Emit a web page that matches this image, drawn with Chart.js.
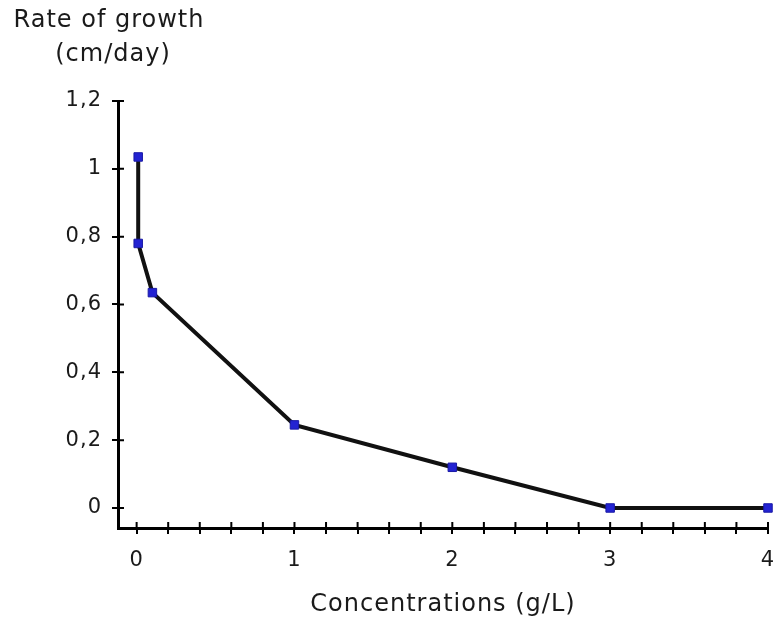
<!DOCTYPE html>
<html>
<head>
<meta charset="utf-8">
<script src="https://cdn.jsdelivr.net/npm/chart.js@4.4.1/dist/chart.umd.min.js"></script>
<style>
  html, body { margin: 0; padding: 0; background: #fff; }
  canvas { display: block; }
</style>
</head>
<body>
<canvas id="chart" width="779" height="623"></canvas>
<script>
// concentration (g/L) and growth rate (cm/day)
const concentrations = [0.01, 0.01, 0.1, 1, 2, 3, 4];
const growthRates = [1.035, 0.78, 0.635, 0.245, 0.12, 0, 0];
const xTickLabels = ['0', '1', '2', '3', '4'];
const yTickLabels = ['0', '0,2', '0,4', '0,6', '0,8', '1', '1,2'];
const yTitleLines = ['Rate of growth', '(cm/day)'];
const xTitle = 'Concentrations (g/L)';
const minorPerUnit = 5; // x axis has a tick every 0.2

const FONT = '"DejaVu Sans", Verdana, sans-serif';
const INK = '#1a1a1a';

const near = (a, b) => Math.abs(a - b) < 1e-6;

// the wide bitmap look of the original text
const spacing = {
    id: 'spacing',
    beforeDraw(chart) { chart.ctx.letterSpacing = '1px'; }
};

// draws the inner half of every tick so they cross the axis line
const crossTicks = {
    id: 'crossTicks',
    afterDraw(chart) {
        const { ctx, chartArea } = chart;
        const x = chart.scales.x, y = chart.scales.y;
        ctx.save();
        ctx.strokeStyle = '#000';
        ctx.lineWidth = 2;
        ctx.beginPath();
        x.ticks.forEach(t => {
            const px = x.getPixelForValue(t.value);
            ctx.moveTo(px, chartArea.bottom);
            ctx.lineTo(px, chartArea.bottom - 6);
        });
        y.ticks.forEach(t => {
            const py = y.getPixelForValue(t.value);
            ctx.moveTo(chartArea.left, py);
            ctx.lineTo(chartArea.left + 6, py);
        });
        ctx.stroke();
        ctx.restore();
    }
};

// y-axis title sits above the axis, horizontal, on two lines
const yTitle = {
    id: 'yTitle',
    afterDraw(chart) {
        const { ctx } = chart;
        ctx.save();
        ctx.fillStyle = INK;
        ctx.font = '24px ' + FONT;
        ctx.letterSpacing = '1px';
        ctx.textAlign = 'center';
        ctx.textBaseline = 'alphabetic';
        ctx.fillText(yTitleLines[0], 109, 27);
        ctx.fillText(yTitleLines[1], 113, 61);
        ctx.restore();
    }
};

new Chart(document.getElementById('chart'), {
    type: 'scatter',
    data: {
        datasets: [{
            data: concentrations.map((c, i) => ({ x: c, y: growthRates[i] })),
            showLine: true,
            borderColor: '#111',
            borderWidth: 4,
            tension: 0,
            pointStyle: 'rect',
            pointRadius: 6,
            pointBackgroundColor: '#2323d2',
            pointBorderColor: '#1a1aa6',
            pointBorderWidth: 1,
            clip: false
        }]
    },
    options: {
        responsive: false,
        devicePixelRatio: 1,
        animation: false,
        layout: { padding: { top: 101, right: 11, left: 0, bottom: 0 } },
        plugins: { legend: { display: false }, tooltip: { enabled: false } },
        scales: {
            x: {
                type: 'linear',
                min: -0.118,
                max: 4,
                afterFit: s => {
                    s.height = 95;
                    s.paddingLeft = 0;
                    s.paddingRight = 0;
                },
                afterBuildTicks: s => {
                    const n = (xTickLabels.length - 1) * minorPerUnit;
                    s.ticks = Array.from({ length: n + 1 }, (_, k) => ({ value: k / minorPerUnit }));
                },
                ticks: {
                    autoSkip: false,
                    maxRotation: 0,
                    padding: 14,
                    color: INK,
                    font: { family: FONT, size: 21 },
                    callback: v => {
                        const i = xTickLabels.findIndex((l, k) => near(v, k));
                        return i >= 0 ? xTickLabels[i] : '';
                    }
                },
                grid: { drawOnChartArea: false, color: '#000', lineWidth: 2, tickLength: 6 },
                border: { color: '#000', width: 3 },
                title: {
                    display: true,
                    text: xTitle,
                    color: INK,
                    font: { family: FONT, size: 24 },
                    padding: { top: 2, bottom: 4 }
                }
            },
            y: {
                type: 'linear',
                min: -0.059,
                max: 1.2,
                afterFit: s => {
                    s.width = 118;
                    s.paddingTop = 0;
                    s.paddingBottom = 0;
                },
                afterBuildTicks: s => {
                    s.ticks = yTickLabels.map((l, i) => ({ value: i * 0.2 }));
                },
                ticks: {
                    autoSkip: false,
                    padding: 10,
                    color: INK,
                    font: { family: FONT, size: 21 },
                    callback: (v, i) => yTickLabels[i]
                },
                grid: { drawOnChartArea: false, color: '#000', lineWidth: 2, tickLength: 6 },
                border: { color: '#000', width: 3 }
            }
        }
    },
    plugins: [spacing, crossTicks, yTitle]
});
</script>
</body>
</html>
